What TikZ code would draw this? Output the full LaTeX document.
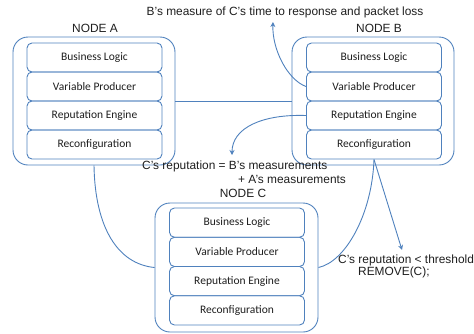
\documentclass[tikz,border=0pt]{standalone}
\usepackage{fontspec}
\setmainfont{Liberation Sans}
\newfontfamily\calib{Carlito}
\usetikzlibrary{arrows.meta}
\definecolor{ln}{RGB}{79,129,189}
\definecolor{tx}{RGB}{30,30,30}
\begin{document}
\begin{tikzpicture}[x=1pt,y=-1pt,
  outerbox/.style={draw=ln,line width=0.9pt,rounded corners=15pt,minimum width=162pt,minimum height=128pt,inner sep=0pt},
  innerbox/.style={draw=ln,line width=0.9pt,rounded corners=5pt,minimum width=135pt,minimum height=28pt,inner sep=0pt,font=\calib\fontsize{11.5}{13}\selectfont,text=tx},
  lbl/.style={font=\fontsize{11.9}{13}\selectfont,text=tx,inner sep=0pt},
  conn/.style={draw=ln,line width=0.9pt},
  arr/.style={conn,-{Stealth[length=5pt,width=5pt]}}]
\useasboundingbox (0,0) rectangle (474,333);
% outer boxes
\node[outerbox] (A) at (94,101) {};
\node[outerbox] (B) at (373,101) {};
\node[outerbox,minimum height=129pt,minimum width=163pt] (C) at (236.5,267.5) {};
% inner stacks
\foreach \n/\x/\ya/\h in {A/94.5/43/29, B/374/43/29, C/237/208/29.25}{
  \node[innerbox,minimum height=\h pt] (\n bl) at (\x,\ya+0.5*\h) {Business Logic};
  \node[innerbox,minimum height=\h pt] (\n vp) at (\x,\ya+1.5*\h) {Variable Producer};
  \node[innerbox,minimum height=\h pt] (\n re) at (\x,\ya+2.5*\h) {Reputation Engine};
  \node[innerbox,minimum height=\h pt] (\n rc) at (\x,\ya+3.5*\h) {Reconfiguration};
}
% labels
\node[lbl] (la) at (95,28) {NODE A};
\node[lbl] (lb) at (379,28) {NODE B};
\node[lbl] (lc) at (243,193) {NODE C};
\node[lbl] (meas) at (285,12) {B's measure of C's time to response and packet loss};
\node[lbl,anchor=west] (rep1) at (142,166) {C's reputation = B's measurements};
\node[lbl,anchor=west] (rep2) at (238,179) {+ A's measurements};
\node[lbl,anchor=west] (thr1) at (338,260) {C's reputation < threshold};
\node[lbl,anchor=west] (thr2) at (358,272) {REMOVE(C);};
\coordinate (tipm) at (273,22);
\coordinate (tipr) at (232,155);
\coordinate (tipt) at (402,250);
% connectors
\draw[conn] (A.east) -- (B.west);
\draw[arr] (Bvp.west) .. controls (288,80) and (272,50) .. (tipm);
\draw[arr] (Bre.west) .. controls (262,114) and (232,128) .. (tipr);
\draw[conn] (A.south) .. controls (95,228) and (118,264) .. (C.west);
\draw[conn] (Brc.south) .. controls (372,215) and (345,262) .. (C.east);
\draw[arr] (Brc.south) -- (tipt);
\end{tikzpicture}
\end{document}
